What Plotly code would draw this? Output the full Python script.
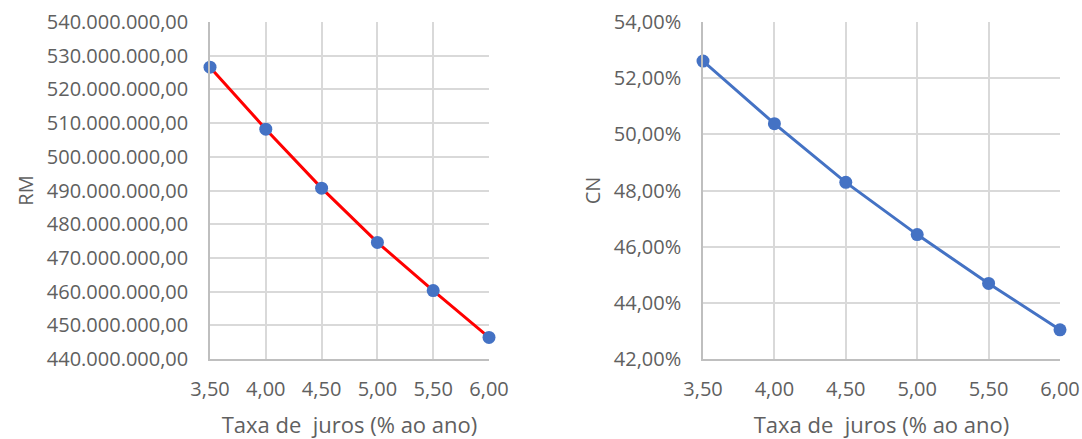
import plotly.graph_objects as go

# Taxa de juros (% ao ano)
taxa = [3.5, 4.0, 4.5, 5.0, 5.5, 6.0]
# RM em reais
rm = [526_600_000, 508_200_000, 490_700_000, 474_600_000, 460_300_000, 446_400_000]
# CN em fração
cn = [0.5261, 0.5038, 0.4829, 0.4643, 0.4469, 0.4304]

W, H = 1082, 439
GRID = "#d9d9d9"
AXIS = "#bfbfbf"
TXT = "#606060"
BLUE = "#4472C4"
FONT = "Open Sans"

fig = go.Figure()
fig.add_trace(go.Scatter(
    x=taxa, y=rm, mode="lines+markers", xaxis="x", yaxis="y",
    line=dict(color="#FF0000", width=3),
    marker=dict(color=BLUE, size=13),
    cliponaxis=False, showlegend=False,
))
fig.add_trace(go.Scatter(
    x=taxa, y=cn, mode="lines+markers", xaxis="x2", yaxis="y2",
    line=dict(color=BLUE, width=3),
    marker=dict(color=BLUE, size=13),
    cliponaxis=False, showlegend=False,
))

def px_x(a, b):
    return [a / W, b / W]

ydom = [1 - 359 / H, 1 - 22 / H]

xcommon = dict(
    range=[3.5, 6.0], dtick=0.5, tick0=3.5, tickformat=".2f",
    showgrid=True, gridcolor=GRID, gridwidth=1.5,
    showline=True, linecolor=AXIS, linewidth=1.5, mirror=False,
    zeroline=False, ticks="", ticklabelstandoff=11, automargin=False,
    tickfont=dict(family=FONT, size=20, color=TXT),
    title=dict(text="Taxa de  juros (% ao ano)", standoff=21,
               font=dict(family=FONT, size=22, color=TXT)),
)
ycommon = dict(
    showgrid=True, gridcolor=GRID, gridwidth=1.5,
    showline=True, linecolor=AXIS, linewidth=1.5,
    zeroline=False, ticks="", ticklabelstandoff=16, automargin=False,
    tickfont=dict(family=FONT, size=20, color=TXT),
)

fig.update_layout(
    width=W, height=H,
    margin=dict(l=0, r=0, t=0, b=0),
    paper_bgcolor="white", plot_bgcolor="white",
    separators=",.",
    xaxis=dict(domain=px_x(210, 489), anchor="y", **xcommon),
    yaxis=dict(domain=ydom, anchor="x", range=[440_000_000, 540_000_000],
               dtick=10_000_000, tickformat=",.2f",
               title=dict(text="RM", standoff=8,
                          font=dict(family=FONT, size=20, color=TXT)),
               **ycommon),
    xaxis2=dict(domain=px_x(703, 1060), anchor="y2", **xcommon),
    yaxis2=dict(domain=ydom, anchor="x2", range=[0.42, 0.54],
                dtick=0.02, tickformat=".2%",
                title=dict(text="CN", standoff=8,
                           font=dict(family=FONT, size=20, color=TXT)),
                **ycommon),
)

fig.write_html("out.html")
